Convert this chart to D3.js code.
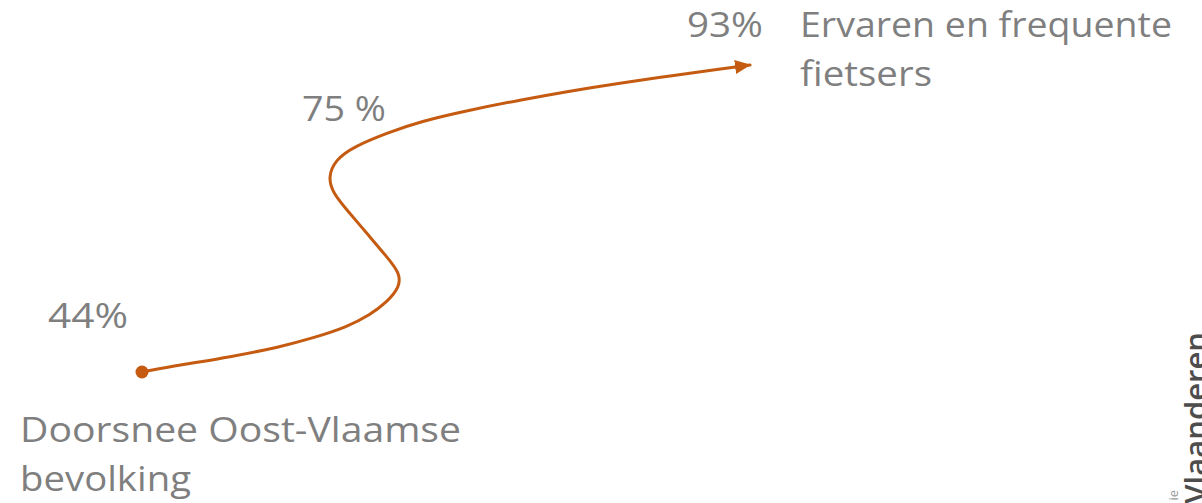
<!DOCTYPE html>
<html>
<head>
<meta charset="utf-8">
<script src="https://cdn.jsdelivr.net/npm/d3@7"></script>
<style>
  html, body { margin: 0; padding: 0; background: #fff; }
  svg { display: block; }
</style>
</head>
<body>
<div id="chart"></div>
<script>
// ---- data ----
const values = [44, 75, 93];
const valueLabels = ["44%", "75 %", "93%"];
const startLabel = ["Doorsnee Oost-Vlaamse", "bevolking"];
const endLabel = ["Ervaren en frequente", "fietsers"];
// hand-drawn arrow path, in progress units (x: 0..100 along the arrow, y: 0..100 rise)
const curveX = [0, 6.25, 14.47, 22.70, 28.13, 33.72, 37.50, 40.30, 42.4, 42.4, 40.30, 37.50, 33.72, 31.4, 30.6, 31.8, 34.70, 40.30, 45.72, 53.95, 62.17, 70.39, 78.62, 86.84, 95.07, 100];
const curveY = [0, 2.28, 4.89, 8.14, 11.07, 14.66, 18.57, 22.80, 27.69, 32.25, 37.46, 43.97, 52.77, 58.31, 63.52, 69.06, 73.29, 77.85, 81.6, 85.34, 88.60, 91.53, 94.14, 96.42, 98.70, 100];
const logoSmall = "ie";
const logoBig = "Vlaanderen";

// ---- layout ----
const W = 1202, H = 503;
const FONT = "'Open Sans', 'Noto Sans', sans-serif";
const GRAY = "#7f7f7f";
const ORANGE = "#c55a11";

const svg = d3.select("#chart").append("svg")
  .attr("width", W).attr("height", H)
  .attr("viewBox", `0 0 ${W} ${H}`);

const x = d3.scaleLinear().domain([0, 100]).range([142, 750]);
const y = d3.scaleLinear().domain([0, 100]).range([372, 65]);

svg.append("defs").append("marker")
  .attr("id", "arrow")
  .attr("viewBox", "0 0 16 14")
  .attr("refX", 15).attr("refY", 7)
  .attr("markerWidth", 16).attr("markerHeight", 14)
  .attr("markerUnits", "userSpaceOnUse")
  .attr("orient", "auto")
  .append("path")
  .attr("d", "M0,0 L16,7 L0,14 Z")
  .attr("fill", ORANGE);

const pts = curveX.map((d, i) => [d, curveY[i]]);
const line = d3.line()
  .x(d => x(d[0])).y(d => y(d[1]))
  .curve(d3.curveBasis);

svg.append("path")
  .attr("d", line(pts))
  .attr("fill", "none")
  .attr("stroke", ORANGE)
  .attr("stroke-width", 3)
  .attr("stroke-linecap", "round")
  .attr("marker-end", "url(#arrow)");

svg.append("circle")
  .attr("cx", x(0)).attr("cy", y(0))
  .attr("r", 6.5)
  .attr("fill", ORANGE);

const fs = 34;
// value labels
const labelPos = [
  { x: 48, y: 328, w: 80 },
  { x: 302, y: 121, w: 84 },
  { x: 687, y: 37, w: 76 }
];
svg.selectAll("text.val").data(valueLabels).join("text")
  .attr("class", "val")
  .attr("x", (d, i) => labelPos[i].x)
  .attr("y", (d, i) => labelPos[i].y)
  .attr("textLength", (d, i) => labelPos[i].w)
  .attr("lengthAdjust", "spacingAndGlyphs")
  .attr("font-family", FONT)
  .attr("font-size", fs)
  .attr("fill", GRAY)
  .text(d => d);

// category labels
const startW = [441, 171];
svg.selectAll("text.start").data(startLabel).join("text")
  .attr("class", "start")
  .attr("x", 20)
  .attr("y", (d, i) => 442 + i * 49)
  .attr("textLength", (d, i) => startW[i])
  .attr("lengthAdjust", "spacingAndGlyphs")
  .attr("font-family", FONT).attr("font-size", fs).attr("fill", GRAY)
  .text(d => d);

const endW = [372, 132];
svg.selectAll("text.end").data(endLabel).join("text")
  .attr("class", "end")
  .attr("x", 800)
  .attr("y", (d, i) => 37 + i * 49)
  .attr("textLength", (d, i) => endW[i])
  .attr("lengthAdjust", "spacingAndGlyphs")
  .attr("font-family", FONT).attr("font-size", fs).attr("fill", GRAY)
  .text(d => d);

// logo fragment (cut off at the right edge, as in the reference)
svg.append("text")
  .attr("transform", "translate(1207,332) rotate(-90)")
  .attr("text-anchor", "end")
  .attr("font-family", FONT).attr("font-size", 31).attr("font-weight", 600)
  .attr("fill", "#4d4d4d")
  .text(logoBig);
svg.append("text")
  .attr("transform", "translate(1178,490) rotate(-90)")
  .attr("text-anchor", "end")
  .attr("font-family", FONT).attr("font-size", 13)
  .attr("fill", "#9a9a9a")
  .text(logoSmall);
</script>
</body>
</html>
